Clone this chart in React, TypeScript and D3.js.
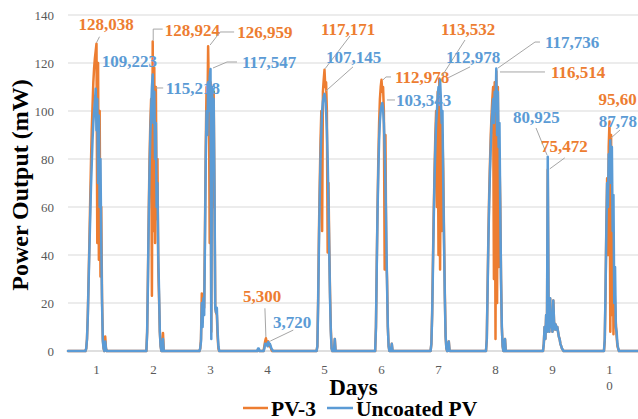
import React from 'react';
import * as d3 from 'd3';

// ---- data ----
const dayLabels = ['1', '2', '3', '4', '5', '6', '7', '8', '9', '10'];
const yTicks = [0, 20, 40, 60, 80, 100, 120, 140];
const seriesNames = ['PV-3', 'Uncoated PV'];
// each day: samples every 20 min from 07:00 to 16:40 (mW); outside is 0
const windowStartHour = 7;
const samplesPerHour = 3;

const pv3Days = [
  [0, 0, 1, 5, 15, 30, 45, 62, 78, 92, 102, 112, 118, 122, 125, 128.038, 45, 120, 38, 100, 31, 60, 22, 5, 1, 0, 6, 1, 0, 0],
  [0, 0, 0, 0, 0, 0, 0, 8, 32, 58, 80, 95, 105, 23, 128.924, 50, 118, 45, 110, 55, 80, 35, 22, 8, 2, 0, 0, 7.5, 0, 0],
  [0, 0, 1, 5, 24, 12, 20, 18, 50, 85, 110, 95, 126.959, 105, 45, 112, 8, 100, 60, 108, 65, 18, 16, 15, 6, 1, 0, 0, 0, 0],
  [0, 0, 0, 0.5, 0.5, 0, 0, 0, 0, 0, 0, 2, 4, 5.3, 3.5, 3, 4, 2, 2.5, 1.5, 0.5, 0, 0, 0, 0, 0, 0, 0, 0, 0],
  [0, 0, 0, 0, 0, 0, 2, 22, 50, 70, 88, 100, 50, 108, 113, 117.171, 110, 112, 100, 41, 70, 44, 24, 9, 1, 0, 0, 0, 5, 0],
  [0, 0, 0, 0, 0, 0, 0, 0, 10, 36, 60, 80, 95, 105, 110, 112.978, 108, 110, 100, 34, 90, 40, 30, 10, 2, 0, 0, 0, 3, 0],
  [0, 0, 0, 0, 0, 0, 3, 16, 38, 58, 75, 90, 100, 60, 108, 40, 113.532, 34, 100, 50, 90, 75, 48, 24, 6, 1, 0, 0, 4, 0],
  [0, 0, 0, 0, 5, 26, 48, 65, 78, 90, 98, 105, 110, 30, 112, 5, 116.514, 20, 110, 35, 80, 62, 30, 10, 2, 0, 0, 5, 0, 0],
  [0, 0, 0, 0, 3, 10, 5, 15, 8, 75.472, 20, 8, 22, 10, 12, 8, 21, 12, 9, 11, 9, 10, 8, 6, 5, 3, 2, 1, 0.5, 0],
  [0, 0, 0, 0, 0, 0, 0, 0, 0, 4, 24, 52, 72, 40, 85, 95.604, 8, 90, 15, 60, 7, 30, 20, 12, 6, 2, 1, 0, 0, 0],
];

const uncoatedDays = [
  [0, 0, 1, 5, 14, 28, 42, 55, 68, 78, 88, 95, 100, 104, 109.223, 92, 105, 70, 98, 60, 80, 45, 20, 4, 1, 0, 4, 1, 0, 0],
  [0, 0, 0, 0, 0, 0, 0, 8, 30, 55, 75, 90, 100, 110, 115.218, 95, 108, 80, 95, 60, 70, 40, 25, 8, 2, 0, 0, 5, 0, 0],
  [0, 0, 1, 4, 20, 10, 22, 15, 45, 80, 100, 90, 112, 100, 114, 117.547, 5, 110, 95, 105, 70, 18, 16, 18, 8, 2, 0, 0, 0, 0],
  [0, 0, 0, 1, 1, 0, 0, 0, 0, 0, 0, 1, 3, 2.5, 3, 2, 3.72, 2.5, 3, 2, 1, 0.5, 0, 0, 0, 0, 0, 0, 0, 0],
  [0, 0, 0, 0, 0, 0, 2, 20, 45, 65, 80, 92, 100, 104, 106, 107.145, 105, 100, 92, 80, 62, 42, 22, 8, 1, 0, 0, 0, 5, 0],
  [0, 0, 0, 0, 0, 0, 0, 0, 10, 35, 58, 75, 88, 96, 100, 102, 103.343, 101, 95, 85, 70, 50, 28, 10, 2, 0, 0, 0, 3, 0],
  [0, 0, 0, 0, 0, 0, 3, 15, 35, 55, 72, 85, 95, 100, 106, 110, 108, 112.978, 105, 95, 100, 70, 45, 22, 6, 1, 0, 0, 4, 0],
  [0, 0, 0, 0, 5, 25, 45, 62, 75, 85, 95, 100, 105, 95, 108, 100, 117.736, 90, 108, 85, 95, 60, 30, 10, 2, 0, 0, 5, 0, 0],
  [0, 0, 0, 0, 3, 10, 5, 15, 8, 80.925, 20, 8, 22, 10, 12, 8, 21, 12, 9, 11, 9, 10, 8, 6, 5, 3, 2, 1, 0.5, 0],
  [0, 0, 0, 0, 0, 0, 0, 0, 0, 5, 25, 50, 70, 60, 82, 75, 87.782, 70, 85, 50, 65, 20, 35, 10, 8, 3, 1, 0, 0, 0],
];

// data labels: series index, day index, sample index, shown text
const labelSeries = [0, 1, 0, 1, 0, 1, 0, 1, 0, 1, 0, 1, 0, 1, 1, 0, 1, 0, 0, 1];
const labelDay = [0, 0, 1, 1, 2, 2, 3, 3, 4, 4, 5, 5, 6, 6, 7, 7, 8, 8, 9, 9];
const labelIdx = [15, 14, 14, 14, 12, 15, 13, 16, 15, 15, 15, 16, 16, 17, 16, 16, 9, 9, 15, 16];
const labelTexts = [
  '128,038', '109,223', '128,924', '115,218', '126,959', '117,547', '5,300', '3,720',
  '117,171', '107,145', '112,978', '103,343', '113,532', '112,978', '117,736', '116,514',
  '80,925', '75,472', '95,60', '87,78',
];

const COLORS = ['#ED7D31', '#5B9BD5'];
const SERIF = "'Liberation Serif', 'Times New Roman', serif";

const labelLayout: { dx: number; dy: number; leader: number[][] | null }[] = [
  { dx: -18, dy: -14, leader: [[0, -1], [3, -7]] },
  { dx: 6, dy: -22, leader: null },
  { dx: 12, dy: -6, leader: [[0.5, -1], [0.5, -12.5], [10, -12.5]] },
  { dx: 13, dy: 19.5, leader: [[3, 13.5], [10.5, 13.5]] },
  { dx: 29, dy: -8.3, leader: [[26, -14.3], [12, -14.3], [2, -1.3]] },
  { dx: 31.5, dy: -1, leader: [[26.5, -6.9], [16.5, -6.9], [2.5, -0.9]] },
  { dx: -23, dy: -36, leader: [[-1, -30], [0, -1]] },
  { dx: 4.7, dy: -14, leader: [[25, -12], [2, -1]] },
  { dx: -3.5, dy: -34.8, leader: [[25.5, -33.8], [0.5, -1]] },
  { dx: 1.5, dy: -31, leader: [[28.5, -27], [1.5, -3]] },
  { dx: 13.5, dy: 3.1, leader: [[9.5, -2.9], [4.5, -2.9], [1.5, 0]] },
  { dx: 13.7, dy: 3, leader: [[4.7, -3], [12.7, -3]] },
  { dx: 1.7, dy: -43.5, leader: [[25.7, -38.5], [2.7, -2.5]] },
  { dx: 5.9, dy: -17, leader: [[30, -13], [8, -2]] },
  { dx: 48.7, dy: -20.4, leader: [[43.7, -26.4], [38.7, -26.4], [1.7, -0.4]] },
  { dx: 54.7, dy: 6.6, leader: [[48.7, 0.6], [3.7, 0.6]] },
  { dx: -34.75, dy: -33.8, leader: [[-11.75, -28.8], [-0.75, -1.8]] },
  { dx: -6.75, dy: -18, leader: [[17, -12], [2, -1]] },
  { dx: -11, dy: -16.6, leader: null },
  { dx: -11.5, dy: -13.3, leader: [[9.7, -10.3], [0.7, -2.3]] },
];

type Pt = { t: number; v: number };

function buildSeries(days: number[][]): Pt[] {
  const pts: Pt[] = [{ t: 0, v: 0 }];
  days.forEach((vals, d) =>
    vals.forEach((v, k) => pts.push({ t: d * 24 + windowStartHour + k / samplesPerHour, v }))
  );
  pts.push({ t: dayLabels.length * 24, v: 0 });
  return pts;
}

export default function App() {
  const W = 638;
  const H = 419;
  const left = 68;
  const right = 638;
  const x = d3.scaleLinear().domain([0, dayLabels.length * 24]).range([left, right]);
  const y = d3.scaleLinear().domain([0, 140]).range([351, 15]);

  const series = [buildSeries(pv3Days), buildSeries(uncoatedDays)];
  const line = d3
    .line<Pt>()
    .x((p) => x(p.t))
    .y((p) => y(p.v));

  const dayRaw = [pv3Days, uncoatedDays];
  const ff = { fontFamily: SERIF };

  return (
    <svg width={W} height={H} style={{ position: 'absolute', left: 0, top: 0, background: '#fff' }}>
      <rect x={0} y={0} width={W} height={H} fill="#fff" />
      {/* grid */}
      {yTicks.map((t) => (
        <g key={t}>
          <line x1={left} x2={right} y1={y(t)} y2={y(t)} stroke={t === 0 ? '#BFBFBF' : '#D9D9D9'} strokeWidth={1} />
          <text x={54} y={y(t)} dy="0.35em" textAnchor="end" fontSize={13} fill="#595959" style={ff}>
            {t}
          </text>
        </g>
      ))}
      {/* x tick labels */}
      {dayLabels.map((lab, i) => {
        const cx = x(i * 24 + 12);
        return (
          <text key={lab} x={cx} y={374} textAnchor="middle" fontSize={13} fill="#595959" style={ff}>
            {lab.length > 1
              ? lab.split('').map((ch, j) => (
                  <tspan key={j} x={cx} dy={j === 0 ? 0 : 16}>
                    {ch}
                  </tspan>
                ))
              : lab}
          </text>
        );
      })}
      {/* series */}
      {series.map((s, i) => (
        <path
          key={i}
          d={line(s) || ''}
          fill="none"
          stroke={COLORS[i]}
          strokeWidth={2.5}
          strokeLinejoin="round"
          strokeLinecap="round"
        />
      ))}
      {/* data labels */}
      {labelLayout.map((L, i) => {
        const s = labelSeries[i];
        const d = labelDay[i];
        const k = labelIdx[i];
        const v = dayRaw[s][d][k];
        const px = x(d * 24 + windowStartHour + k / samplesPerHour);
        const py = y(v);
        return (
          <g key={i}>
            {L.leader && (
              <polyline
                points={L.leader.map((o) => `${px + o[0]},${py + o[1]}`).join(' ')}
                fill="none"
                stroke="#A6A6A6"
                strokeWidth={1}
              />
            )}
            <text x={px + L.dx} y={py + L.dy} fontSize={17} fontWeight="bold" fill={COLORS[s]} style={ff}>
              {labelTexts[i]}
            </text>
          </g>
        );
      })}
      {/* axis titles */}
      <text x={353.5} y={395} textAnchor="middle" fontSize={23} fontWeight="bold" fill="#000" style={ff}>
        Days
      </text>
      <text
        transform="translate(28,185) rotate(-90)"
        textAnchor="middle"
        fontSize={24}
        fontWeight="bold"
        fill="#000"
        style={ff}
      >
        Power Output (mW)
      </text>
      {/* legend */}
      <line x1={243} x2={268} y1={408} y2={408} stroke={COLORS[0]} strokeWidth={2.5} />
      <text x={271} y={415.5} fontSize={21.5} fontWeight="bold" fill="#000" style={ff}>
        {seriesNames[0]}
      </text>
      <line x1={327} x2={353} y1={408} y2={408} stroke={COLORS[1]} strokeWidth={2.5} />
      <text x={356} y={415.5} fontSize={21.5} fontWeight="bold" fill="#000" style={ff}>
        {seriesNames[1]}
      </text>
    </svg>
  );
}
